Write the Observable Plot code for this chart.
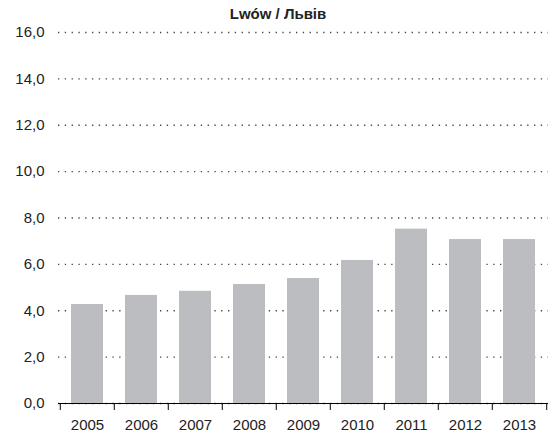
<!DOCTYPE html>
<html>
<head>
<meta charset="utf-8">
<script src="https://cdn.jsdelivr.net/npm/d3@7"></script>
<script src="https://cdn.jsdelivr.net/npm/@observablehq/plot@0.6"></script>
<style>
  body { margin: 0; background: #fff; position: relative; }
  #title { position: absolute; left: 0; top: 0; width: 556px; height: 28px; text-align: center; font: bold 15px "Liberation Sans", Arial, sans-serif; line-height: 28px; color: #222; z-index: 1; }
</style>
</head>
<body>
<div id="title">Lwów / Львів</div>
<div id="chart"></div>
<script>
const years = ["2005", "2006", "2007", "2008", "2009", "2010", "2011", "2012", "2013"];
const values = [4.27, 4.66, 4.84, 5.13, 5.39, 6.17, 7.52, 7.07, 7.07];
const yTicks = [0, 2, 4, 6, 8, 10, 12, 14, 16];

const data = years.map((y, i) => ({year: y, value: values[i]}));
const fmt = d => d.toFixed(1).replace(".", ",");
const font = '"Liberation Sans", Arial, sans-serif';

const W = 556, H = 436, ML = 58, MR = 8, MT = 32, MB = 33;
const step = (W - ML - MR) / years.length;

const chart = Plot.plot({
  width: W,
  height: H,
  marginLeft: ML,
  marginRight: MR,
  marginTop: MT,
  marginBottom: MB,
  style: {fontFamily: font, fontSize: "15px", color: "#222", background: "#fff"},
  x: {domain: years, paddingInner: 0.4, paddingOuter: 0.2, label: null},
  y: {domain: [0, 16], label: null},
  marks: [
    Plot.gridY(yTicks, {stroke: "#444", strokeOpacity: 1, strokeWidth: 1.3, strokeDasharray: "1.3,5.5"}),
    Plot.barY(data, {x: "year", y: "value", fill: "#bcbdc1"}),
    Plot.ruleY([0], {stroke: "#000", strokeWidth: 1}),
    Plot.axisY(yTicks, {tickSize: 0, tickPadding: 14, tickFormat: fmt, fontSize: 15}),
    Plot.axisX({tickSize: 0, tickPadding: 16, fontSize: 15}),
    Plot.axisX(years, {tickSize: 7, text: null, dx: -step / 2, stroke: "#000"}),
    Plot.axisX([years[years.length - 1]], {tickSize: 7, text: null, dx: step / 2, stroke: "#000"})
  ]
});
document.getElementById("chart").appendChild(chart);
</script>
</body>
</html>
